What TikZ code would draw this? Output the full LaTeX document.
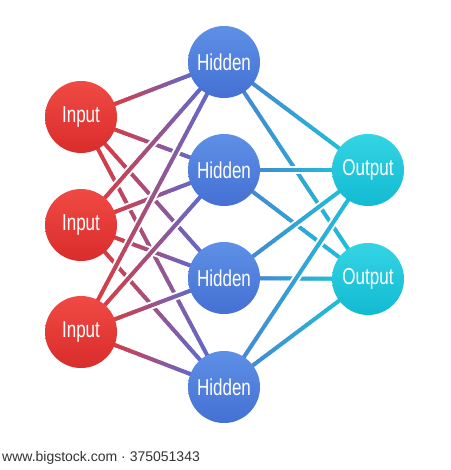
\documentclass[tikz,border=0pt]{standalone}
\usepackage{fontspec}
\setmainfont{Liberation Sans}
\usetikzlibrary{calc}
\definecolor{inA}{HTML}{F04A44}
\definecolor{inB}{HTML}{D92C2C}
\definecolor{hidA}{HTML}{5E90E6}
\definecolor{hidB}{HTML}{4470D3}
\definecolor{outA}{HTML}{34D4E4}
\definecolor{outB}{HTML}{12BAD2}
\definecolor{eRed}{HTML}{DA3B3F}
\definecolor{ePurp}{HTML}{6468C8}
\definecolor{eBlue}{HTML}{4488D2}
\definecolor{eCyan}{HTML}{22BCD8}
\pgfdeclarelayer{bg}
\pgfdeclarelayer{edges}
\pgfsetlayers{bg,edges,main}
\newcommand\gedge[4]{%
  \draw[white,line width=8] ($(#1.center)!30pt!(#2.center)$) -- ($(#2.center)!30pt!(#1.center)$);
  \foreach \k in {0,...,23}{%
    \pgfmathsetmacro\pa{\k/24}%
    \pgfmathsetmacro\pb{(\k+1)/24}%
    \pgfmathtruncatemacro\pc{100-(\k+0.5)*100/24}%
    \draw[line width=4,line cap=round,color=#3!\pc!#4]
      ($($(#1.center)!34pt!(#2.center)$)!\pa!($(#2.center)!34pt!(#1.center)$)$) --
      ($($(#1.center)!34pt!(#2.center)$)!\pb!($(#2.center)!34pt!(#1.center)$)$);
  }%
}
\tikzset{
  neuron/.style={circle,minimum size=72pt,inner sep=0pt,text=white,
    font=\fontsize{23}{23}\selectfont},
  inneuron/.style={neuron,top color=inA,bottom color=inB},
  hidneuron/.style={neuron,top color=hidA,bottom color=hidB},
  outneuron/.style={neuron,top color=outA,bottom color=outB},
  credit/.style={text=black!80,font=\fontsize{14}{14}\selectfont,anchor=base west,inner sep=0pt}
}
\newcommand\cond[1]{\scalebox{0.74}[1]{#1}}
\begin{document}
\begin{tikzpicture}[x=1pt,y=-1pt]
\useasboundingbox (0,0) rectangle (450,470);
\begin{pgfonlayer}{bg}
\fill[white] (0,0) rectangle (450,470);
\end{pgfonlayer}
\node[inneuron] (i1) at (81,117) {\cond{Input}};
\node[inneuron] (i2) at (81,225) {\cond{Input}};
\node[inneuron] (i3) at (81,332) {\cond{Input}};
\node[hidneuron] (h1) at (224,62) {\cond{Hidden}};
\node[hidneuron] (h2) at (224,170) {\cond{Hidden}};
\node[hidneuron] (h3) at (224,278) {\cond{Hidden}};
\node[hidneuron] (h4) at (224,387) {\cond{Hidden}};
\node[outneuron] (o1) at (368,170) {\cond{Output}};
\node[outneuron] (o2) at (368,279) {\cond{Output}};
\begin{pgfonlayer}{edges}
\foreach \i in {1,2,3}{
  \foreach \h in {1,2,3,4}{
    \gedge{i\i}{h\h}{eRed}{ePurp}
  }
}
\foreach \h in {1,2,3,4}{
  \foreach \o in {1,2}{
    \gedge{h\h}{o\o}{eBlue}{eCyan}
  }
}
\end{pgfonlayer}
\node[credit] (cr) at (2,461) {www.bigstock.com · 375051343};
\end{tikzpicture}
\end{document}
